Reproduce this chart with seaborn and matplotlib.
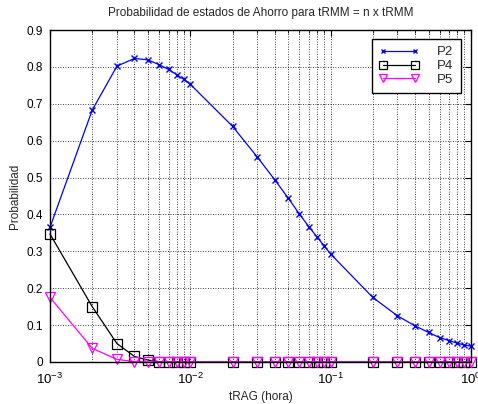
import matplotlib
matplotlib.use("Agg")
import matplotlib.pyplot as plt
import seaborn as sns
import pandas as pd
import numpy as np
from matplotlib.ticker import LogLocator, MultipleLocator, NullFormatter

t_rag = [0.001, 0.002, 0.003, 0.004, 0.005, 0.006, 0.007, 0.008, 0.009, 0.01,
         0.02, 0.03, 0.04, 0.05, 0.06, 0.07, 0.08, 0.09, 0.1,
         0.2, 0.3, 0.4, 0.5, 0.6, 0.7, 0.8, 0.9, 1.0]
p2 = [0.365, 0.683, 0.802, 0.823, 0.819, 0.806, 0.793, 0.779, 0.766, 0.753,
      0.639, 0.556, 0.494, 0.444, 0.401, 0.367, 0.339, 0.315, 0.293,
      0.175, 0.125, 0.098, 0.080, 0.066, 0.058, 0.051, 0.046, 0.043]
p4 = [0.347, 0.150, 0.050, 0.015, 0.005, 0.001, 0.0, 0.0, 0.0, 0.0,
      0.0, 0.0, 0.0, 0.0, 0.0, 0.0, 0.0, 0.0, 0.0,
      0.0, 0.0, 0.0, 0.0, 0.0, 0.0, 0.0, 0.0, 0.0]
p5 = [0.175, 0.037, 0.007, 0.001, 0.0, 0.0, 0.0, 0.0, 0.0, 0.0,
      0.0, 0.0, 0.0, 0.0, 0.0, 0.0, 0.0, 0.0, 0.0,
      0.0, 0.0, 0.0, 0.0, 0.0, 0.0, 0.0, 0.0, 0.0]
series_names = ["P2", "P4", "P5"]

sns.set_style("white")
plt.rcParams["font.family"] = ["Liberation Sans", "DejaVu Sans"]
plt.rcParams["font.size"] = 8.5
plt.rcParams["mathtext.fontset"] = "custom"
plt.rcParams["mathtext.rm"] = "Liberation Sans"
plt.rcParams["mathtext.it"] = "Liberation Sans"
plt.rcParams["mathtext.default"] = "regular"

fig = plt.figure(figsize=(4.78, 4.04), dpi=100)
ax = fig.add_axes([0.1046, 0.104, 0.8804, 0.8217])

df = pd.DataFrame({"t": t_rag, "P2": p2, "P4": p4, "P5": p5})
styles = {
    "P2": dict(color="#0000ff", marker="x", markersize=4, mew=1.0),
    "P4": dict(color="#000000", marker="s", markersize=7, mew=0.9),
    "P5": dict(color="#ff00ff", marker="v", markersize=7, mew=0.9),
}
for name in series_names:
    st = styles[name]
    sns.lineplot(data=df, x="t", y=name, ax=ax, label=name, color=st["color"],
                 marker=st["marker"], markersize=st["markersize"],
                 markerfacecolor="none", markeredgecolor=st["color"],
                 markeredgewidth=st["mew"], linewidth=0.9, clip_on=False)

ax.set_xscale("log")
ax.set_xlim(1e-3, 1)
ax.set_ylim(0, 0.9)
ax.yaxis.set_major_locator(MultipleLocator(0.1))
ax.yaxis.set_major_formatter(matplotlib.ticker.FuncFormatter(lambda v, p: "0" if abs(v) < 1e-9 else f"{v:.1f}"))
ax.xaxis.set_major_locator(LogLocator(base=10, numticks=10))
ax.xaxis.set_major_formatter(matplotlib.ticker.FuncFormatter(lambda v, p: r"$10^{%d}$" % round(np.log10(v))))
ax.xaxis.set_minor_locator(LogLocator(base=10, subs=np.arange(2, 10), numticks=20))
ax.xaxis.set_minor_formatter(NullFormatter())

ax.grid(True, which="major", axis="both", color="black", linestyle=(0, (1, 2)), linewidth=0.6)
ax.grid(True, which="minor", axis="x", color="black", linestyle=(0, (1, 2)), linewidth=0.6)
for s in ax.spines.values():
    s.set_color("black")
    s.set_linewidth(1.0)
ax.tick_params(which="both", direction="in", top=True, right=True, labelsize=8.5, colors="black")
ax.tick_params(which="major", length=4)
ax.tick_params(which="minor", length=2)
ax.tick_params(axis="x", which="major", labelsize=9.5, pad=7)
ax.tick_params(axis="y", which="major", pad=5)

ax.set_xlabel("tRAG (hora)", fontsize=8.5, labelpad=3)
ax.set_ylabel("Probabilidad", fontsize=8.5, labelpad=4)
ax.set_title("Probabilidad de estados de Ahorro para tRMM = n x tRMM", fontsize=8.5, pad=10)

leg = ax.legend(loc="upper right", fontsize=9.5, frameon=True, fancybox=False,
                edgecolor="black", framealpha=1, borderpad=0.55, handlelength=3.0,
                handletextpad=1.4, numpoints=2, labelspacing=0.12, markerscale=0.85,
                borderaxespad=0, bbox_to_anchor=(0.976, 0.973))
leg.get_frame().set_linewidth(1.0)

fig.savefig("out.png", dpi=100)
